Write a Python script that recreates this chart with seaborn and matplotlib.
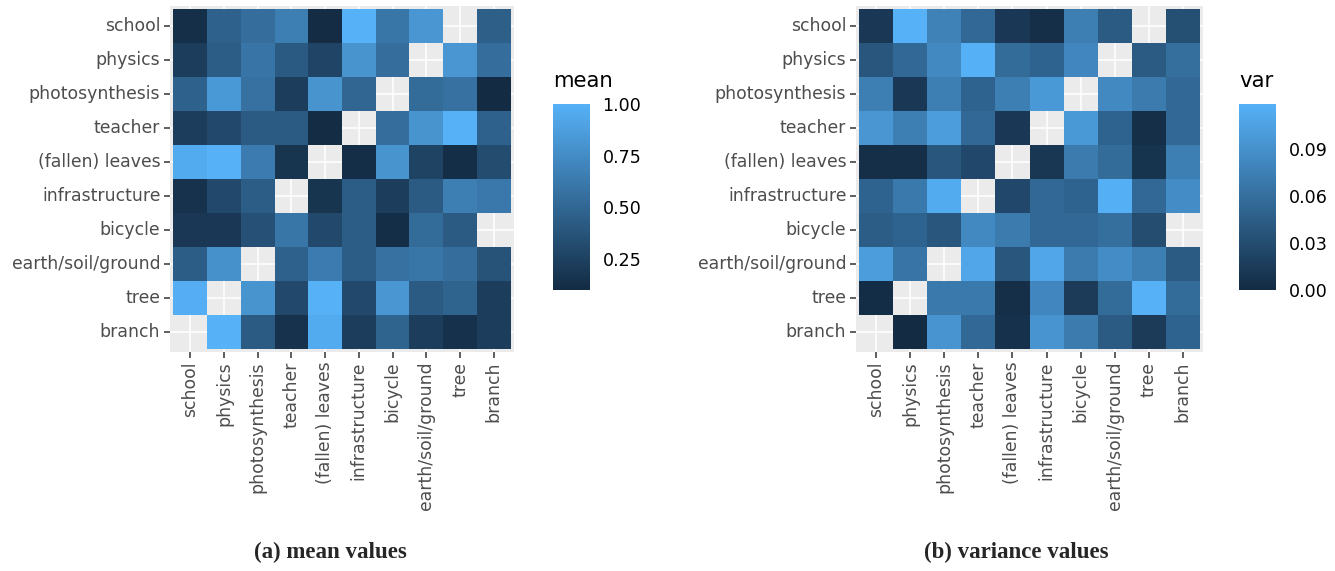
import numpy as np
import pandas as pd
import matplotlib
matplotlib.use("Agg")
import matplotlib.pyplot as plt
from matplotlib.colors import LinearSegmentedColormap
import seaborn as sns

nan = np.nan

terms = ["school", "physics", "photosynthesis", "teacher", "(fallen) leaves",
         "infrastructure", "bicycle", "earth/soil/ground", "tree", "branch"]

mean_vals = [
    [0.13, 0.46, 0.55, 0.66, 0.11, 1.00, 0.60, 0.82, nan, 0.45],
    [0.22, 0.44, 0.59, 0.41, 0.27, 0.80, 0.55, nan, 0.82, 0.55],
    [0.46, 0.84, 0.57, 0.22, 0.80, 0.50, nan, 0.53, 0.57, 0.10],
    [0.22, 0.30, 0.42, 0.42, 0.11, nan, 0.55, 0.80, 1.00, 0.46],
    [0.96, 1.00, 0.64, 0.17, nan, 0.12, 0.80, 0.26, 0.12, 0.32],
    [0.15, 0.30, 0.44, nan, 0.17, 0.44, 0.22, 0.42, 0.66, 0.62],
    [0.19, 0.19, 0.35, 0.60, 0.30, 0.44, 0.12, 0.53, 0.42, nan],
    [0.44, 0.78, nan, 0.46, 0.64, 0.44, 0.57, 0.60, 0.55, 0.37],
    [0.98, nan, 0.80, 0.30, 1.00, 0.30, 0.82, 0.42, 0.48, 0.22],
    [nan, 1.00, 0.42, 0.15, 0.96, 0.22, 0.48, 0.22, 0.14, 0.22],
]

var_vals = [
    [0.012, 0.119, 0.077, 0.054, 0.012, 0.004, 0.074, 0.042, nan, 0.033],
    [0.038, 0.054, 0.083, 0.118, 0.057, 0.050, 0.081, nan, 0.042, 0.060],
    [0.074, 0.012, 0.074, 0.050, 0.074, 0.098, nan, 0.083, 0.071, 0.054],
    [0.095, 0.074, 0.101, 0.054, 0.012, nan, 0.098, 0.050, 0.004, 0.054],
    [0.004, 0.004, 0.038, 0.026, nan, 0.010, 0.071, 0.057, 0.008, 0.074],
    [0.050, 0.069, 0.113, nan, 0.026, 0.054, 0.050, 0.117, 0.054, 0.086],
    [0.045, 0.050, 0.038, 0.083, 0.071, 0.054, 0.054, 0.060, 0.030, nan],
    [0.101, 0.065, nan, 0.109, 0.038, 0.109, 0.071, 0.086, 0.074, 0.042],
    [0.002, nan, 0.069, 0.069, 0.004, 0.081, 0.014, 0.057, 0.119, 0.057],
    [nan, 0.000, 0.093, 0.054, 0.006, 0.093, 0.071, 0.042, 0.014, 0.050],
]

mean_ticks = [0.25, 0.50, 0.75, 1.00]
var_ticks = [0.00, 0.03, 0.06, 0.09]

sns.set_style("white")
plt.rcParams["font.family"] = ["DejaVu Sans"]

blues = LinearSegmentedColormap.from_list("gg_blues", ["#132B43", "#56B1F7"])

W, H = 1335, 571
fig = plt.figure(figsize=(W / 100, H / 100), dpi=100)


def px(x0, y0, x1, y1):
    return [x0 / W, 1 - y1 / H, (x1 - x0) / W, (y1 - y0) / H]


def panel(values, ax_box, cb_box, title, ticks, fmt, caption, cap_x):
    ax = fig.add_axes(px(*ax_box))
    cax = fig.add_axes(px(*cb_box))
    df = pd.DataFrame(values, index=terms, columns=terms)
    ax.set_facecolor("#EBEBEB")
    ax.set_axisbelow(True)
    sns.heatmap(df, ax=ax, cmap=blues, cbar_ax=cax, square=False,
                linewidths=0, cbar_kws={"ticks": ticks})
    ax.set_xlim(-0.1, 10.1)
    ax.set_ylim(10.1, -0.1)
    # white major grid through cell centres, visible only where data is missing
    for k in range(10):
        ax.axvline(k + 0.5, color="white", lw=1.1, zorder=0)
        ax.axhline(k + 0.5, color="white", lw=1.1, zorder=0)
    ax.collections[0].set_zorder(1)
    for s in ax.spines.values():
        s.set_visible(False)
    ax.set_xlabel("")
    ax.set_ylabel("")
    ax.set_xticks(np.arange(10) + 0.5)
    ax.set_yticks(np.arange(10) + 0.5)
    ax.set_xticklabels(terms, rotation=90, fontsize=12.4, color="#4D4D4D")
    ax.set_yticklabels(terms, rotation=0, fontsize=12.4, color="#4D4D4D")
    ax.tick_params(axis="both", length=4, width=1.1, color="#333333", pad=3,
                   bottom=True, left=True)

    cb = ax.collections[0].colorbar
    cb.outline.set_visible(False)
    cax.tick_params(axis="y", direction="in", length=5, width=1.0,
                    color="white", left=True, right=True, labelleft=False,
                    labelright=True, labelsize=12.6, labelcolor="black", pad=9)
    cax.set_yticklabels([fmt.format(t) for t in ticks])
    fig.text(cb_box[0] / W, 1 - 81 / H, title, fontsize=15.3, va="center",
             ha="left", color="black")
    fig.text(cap_x / W, 1 - 552 / H, caption, fontsize=16.5, fontweight="bold",
             family="Liberation Serif", ha="center", va="center")


panel(mean_vals, (170, 6, 514, 352), (553, 104, 590, 290), "mean",
      mean_ticks, "{:.2f}", "(a) mean values", 330)
panel(var_vals, (856, 6, 1203, 352), (1239, 104, 1276, 290), "var",
      var_ticks, "{:.2f}", "(b) variance values", 1016)

fig.savefig("out.png", dpi=100)
